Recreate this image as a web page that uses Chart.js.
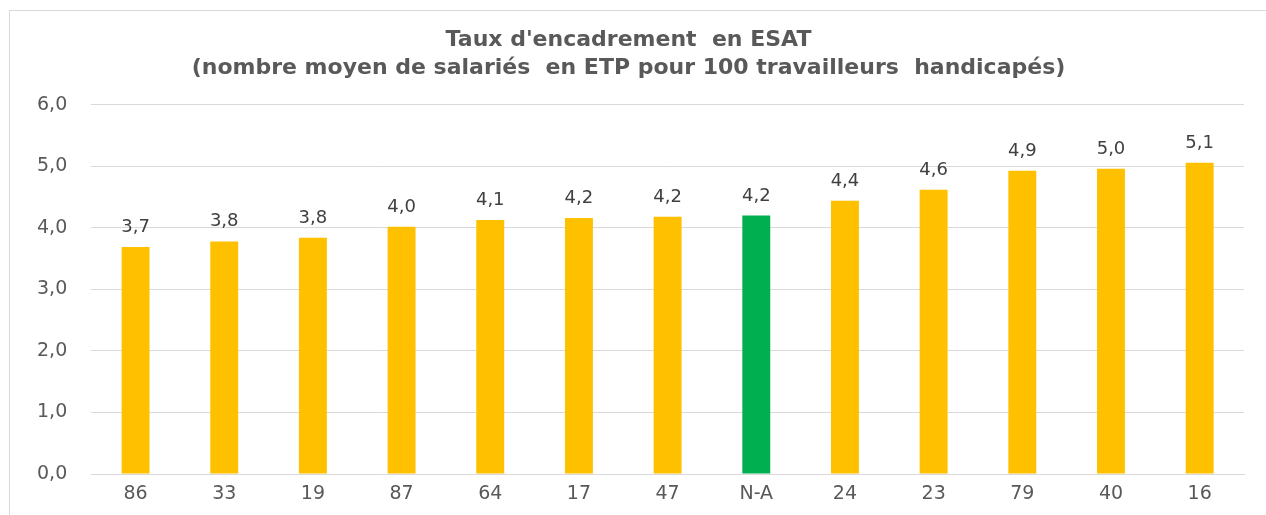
<!DOCTYPE html>
<html>
<head>
<meta charset="utf-8">
<title>Taux d'encadrement en ESAT</title>
<script src="https://cdn.jsdelivr.net/npm/chart.js@4.4.0/dist/chart.umd.min.js"></script>
<style>
  html, body { margin: 0; padding: 0; background: #fff; }
  #wrap { position: absolute; left: 0; top: 0; width: 1266px; height: 515px; }
  #frame { position: absolute; left: 9px; top: 10px; right: 0; bottom: 0;
           border-left: 1px solid #d9d9d9; border-top: 1px solid #d9d9d9; pointer-events: none; }
</style>
</head>
<body>
<div id="wrap"><canvas id="myChart"></canvas></div>
<div id="frame"></div>
<script>
var xValues = ["86","33","19","87","64","17","47","N-A","24","23","79","40","16"];
var yValues = [3.69,3.78,3.84,4.02,4.13,4.16,4.18,4.20,4.44,4.62,4.93,4.96,5.06];
var highlight = "N-A";
var yTicks = [0,1,2,3,4,5,6];

var colors = xValues.map(function (d) {
  return d === highlight ? "#00B050" : "#FFC000";
});

function fmt(v) {
  return v.toFixed(1).replace(".", ",");
}

// étiquettes de valeurs au-dessus des barres
var barLabels = {
  id: "barLabels",
  afterDatasetsDraw: function (chart) {
    var ctx = chart.ctx;
    var meta = chart.getDatasetMeta(0);
    ctx.save();
    ctx.font = "18px 'DejaVu Sans'";
    ctx.fillStyle = "#404040";
    ctx.textAlign = "center";
    ctx.textBaseline = "alphabetic";
    meta.data.forEach(function (bar, i) {
      ctx.fillText(fmt(yValues[i]), bar.x, bar.y - 15);
    });
    ctx.restore();
  }
};

new Chart("myChart", {
  type: "bar",
  data: {
    labels: xValues,
    datasets: [{
      backgroundColor: colors,
      borderColor: colors,
      borderWidth: 0,
      data: yValues,
      barPercentage: 0.63,
      categoryPercentage: 0.5
    }]
  },
  plugins: [barLabels],
  options: {
    responsive: true,
    maintainAspectRatio: false,
    animation: false,
    layout: { padding: { left: 13, right: 22, top: 0, bottom: 0 } },
    plugins: {
      legend: { display: false },
      tooltip: { enabled: false },
      title: {
        display: true,
        text: ["Taux d'encadrement  en ESAT",
               "(nombre moyen de salariés  en ETP pour 100 travailleurs  handicapés)"],
        color: "#595959",
        font: { family: "'DejaVu Sans'", size: 22, weight: "bold", lineHeight: 1.27 },
        padding: { top: 26, bottom: 23 }
      }
    },
    scales: {
      x: {
        grid: { display: false, drawTicks: false },
        border: { display: true, color: "#d9d9d9", width: 1 },
        ticks: { color: "#595959", padding: 11, font: { family: "'DejaVu Sans'", size: 19, lineHeight: 1 } }
      },
      y: {
        min: 0,
        max: 6,
        afterBuildTicks: function (axis) {
          axis.ticks = yTicks.map(function (v) { return { value: v }; });
        },
        grid: { color: "#d9d9d9", lineWidth: 1, drawTicks: false },
        border: { display: false },
        ticks: {
          color: "#595959",
          padding: 24,
          font: { family: "'DejaVu Sans'", size: 19 },
          callback: function (v) { return fmt(v); }
        }
      }
    }
  }
});
</script>
</body>
</html>
